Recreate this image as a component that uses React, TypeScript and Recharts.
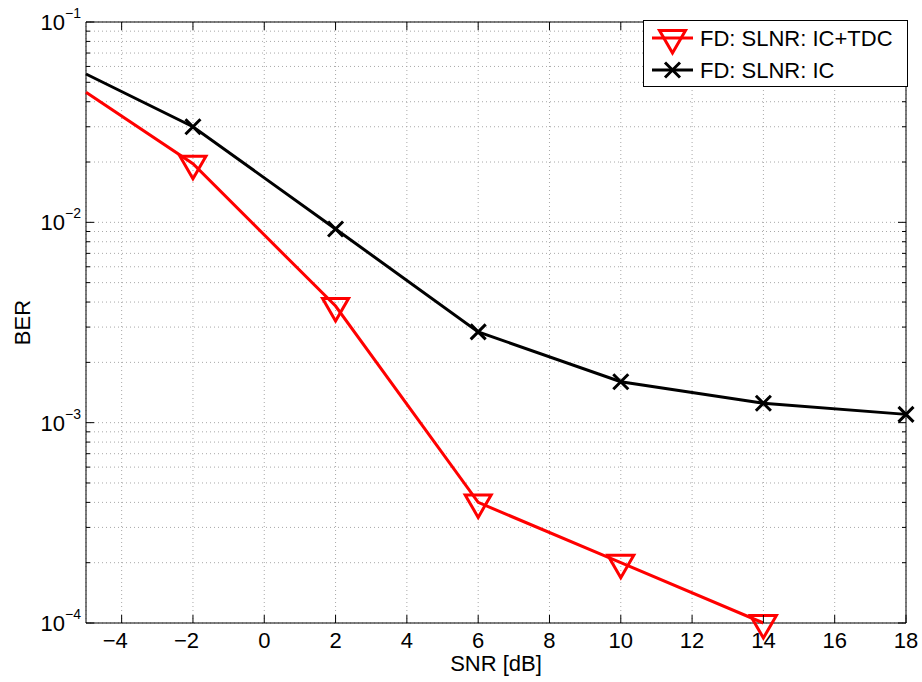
import React from "react";
import { LineChart, Line, XAxis, YAxis, CartesianGrid, ReferenceArea, Legend } from "recharts";

const snr = [-5, -2, 2, 6, 10, 14, 18];
const berIcTdc = [0.0446, 0.0196, 0.00382, 0.0004, 0.0002, 0.0001, null];
const berIc = [0.055, 0.03, 0.00926, 0.00284, 0.0016, 0.00125, 0.0011];

const xTicks = [-4, -2, 0, 2, 4, 6, 8, 10, 12, 14, 16, 18];
const yTicks = [
  0.0001, 0.0002, 0.0003, 0.0004, 0.0005, 0.0006, 0.0007, 0.0008, 0.0009,
  0.001, 0.002, 0.003, 0.004, 0.005, 0.006, 0.007, 0.008, 0.009,
  0.01, 0.02, 0.03, 0.04, 0.05, 0.06, 0.07, 0.08, 0.09,
  0.1,
];
const legendOrder = ["tdc", "ic"];

const data = snr.map((s, i) => ({ snr: s, tdc: berIcTdc[i], ic: berIc[i] }));

const W = 922;
const H = 682;
const MARGIN = { top: 22, right: 16, bottom: 8, left: 0 };
const Y_AXIS_W = 86;
const X_AXIS_H = 51;
const PLOT_W = W - MARGIN.left - MARGIN.right - Y_AXIS_W;
const PLOT_H = H - MARGIN.top - MARGIN.bottom - X_AXIS_H;
const FONT = "'Liberation Sans', Arial, Helvetica, sans-serif";
const LINE_W = 3;

const XTick = (props: any) => {
  const { x, y, payload } = props;
  const v = payload.value;
  const label = v < 0 ? `\u2212${Math.abs(v)}` : `${v}`;
  // matlab centres the digits and lets the minus hang left
  const shift = v < 0 ? -6.4 : 0;
  return (
    <g>
      <line x1={x} y1={y} x2={x} y2={y - 8} stroke="#000" />
      <line x1={x} y1={y - PLOT_H} x2={x} y2={y - PLOT_H + 8} stroke="#000" />
      <text x={x + shift} y={y + 25} textAnchor="middle" fontSize={22} fill="#000">
        {label}
      </text>
    </g>
  );
};

const YTick = (props: any) => {
  const { x, y, payload } = props;
  const lg = Math.log10(payload.value);
  const exp = Math.round(lg);
  const major = Math.abs(lg - exp) < 1e-6;
  const len = major ? 8 : 4;
  return (
    <g>
      <line x1={x} y1={y} x2={x + len} y2={y} stroke="#000" />
      <line x1={x + PLOT_W} y1={y} x2={x + PLOT_W - len} y2={y} stroke="#000" />
      {major && (
        <text x={x - 5} y={y + 8} textAnchor="end" fontSize={22} fill="#000">
          10
          <tspan dy={-12} fontSize={14}>{`\u2212${-exp}`}</tspan>
        </text>
      )}
    </g>
  );
};

const trianglePts = (cx: number, cy: number) =>
  `${cx - 13},${cy - 7.5} ${cx + 13},${cy - 7.5} ${cx},${cy + 15}`;
const crossPath = (cx: number, cy: number, r = 7.5) =>
  `M${cx - r},${cy - r}L${cx + r},${cy + r}M${cx - r},${cy + r}L${cx + r},${cy - r}`;

const TriangleDot = (props: any) => {
  const { cx, cy, payload } = props;
  if (cx == null || cy == null || payload.snr === -5) return <g />;
  return <polygon points={trianglePts(cx, cy)} fill="none" stroke="#ff0000" strokeWidth={LINE_W} />;
};

const CrossDot = (props: any) => {
  const { cx, cy, payload } = props;
  if (cx == null || cy == null || payload.snr === -5) return <g />;
  return <path d={crossPath(cx, cy)} stroke="#000" strokeWidth={LINE_W} />;
};

const LegendBox = (props: any) => {
  const items = [...(props.payload || [])].sort(
    (a: any, b: any) => legendOrder.indexOf(a.dataKey) - legendOrder.indexOf(b.dataKey)
  );
  return (
    <svg width={265} height={67} style={{ display: "block", fontFamily: FONT }}>
      <rect x={0.5} y={0.5} width={264} height={66} fill="#fff" stroke="#000" />
      {items.map((it: any, i: number) => {
        const cy = 18 + i * 32;
        const color = it.color;
        return (
          <g key={i}>
            <line x1={9} y1={cy} x2={50} y2={cy} stroke={color} strokeWidth={LINE_W} />
            {it.dataKey === "tdc" ? (
              <polygon points={trianglePts(29.5, cy)} fill="none" stroke={color} strokeWidth={LINE_W} />
            ) : (
              <path d={crossPath(29.5, cy)} stroke={color} strokeWidth={LINE_W} />
            )}
            <text x={57} y={cy + 8} fontSize={22} fill="#000">
              {it.value}
            </text>
          </g>
        );
      })}
    </svg>
  );
};

const XLabel = (props: any) => {
  const { x, y, width } = props.viewBox;
  return (
    <text x={x + width / 2} y={y + 48} textAnchor="middle" fontSize={22} fill="#000">
      SNR [dB]
    </text>
  );
};

const YLabel = (props: any) => {
  const { x, y, height } = props.viewBox;
  const cx = x + 22;
  const cy = y + height / 2;
  return (
    <text
      x={cx}
      y={cy}
      transform={`rotate(-90 ${cx} ${cy})`}
      textAnchor="middle"
      dominantBaseline="central"
      fontSize={22}
      fill="#000"
    >
      BER
    </text>
  );
};

export default function App() {
  return (
    <div style={{ position: "absolute", left: 0, top: 0, width: W, height: H, fontFamily: FONT, background: "#fff" }}>
      <LineChart width={W} height={H} data={data} margin={MARGIN}>
        <CartesianGrid stroke="#a8a8a8" strokeDasharray="1 3" />
        <XAxis
          dataKey="snr"
          type="number"
          domain={[-5, 18]}
          ticks={xTicks}
          interval={0}
          height={X_AXIS_H}
          tickSize={0}
          tickMargin={0}
          axisLine={false}
          tick={<XTick />}
          label={<XLabel />}
        />
        <YAxis
          scale="log"
          type="number"
          domain={[0.0001, 0.1]}
          ticks={yTicks}
          interval={0}
          width={Y_AXIS_W}
          tickSize={0}
          tickMargin={0}
          axisLine={false}
          tick={<YTick />}
          label={<YLabel />}
        />
        <ReferenceArea x1={-5} x2={18} y1={0.0001} y2={0.1} fill="none" stroke="#000" strokeOpacity={1} />
        <Line
          dataKey="tdc"
          name="FD: SLNR: IC+TDC"
          stroke="#ff0000"
          strokeWidth={LINE_W}
          dot={TriangleDot}
          activeDot={false}
          isAnimationActive={false}
        />
        <Line
          dataKey="ic"
          name="FD: SLNR: IC"
          stroke="#000000"
          strokeWidth={LINE_W}
          dot={CrossDot}
          activeDot={false}
          isAnimationActive={false}
        />
        <Legend
          layout="vertical"
          align="center"
          verticalAlign="middle"
          wrapperStyle={{ top: 20, left: 643, width: 265, height: 67 }}
          content={<LegendBox />}
        />
      </LineChart>
    </div>
  );
}
